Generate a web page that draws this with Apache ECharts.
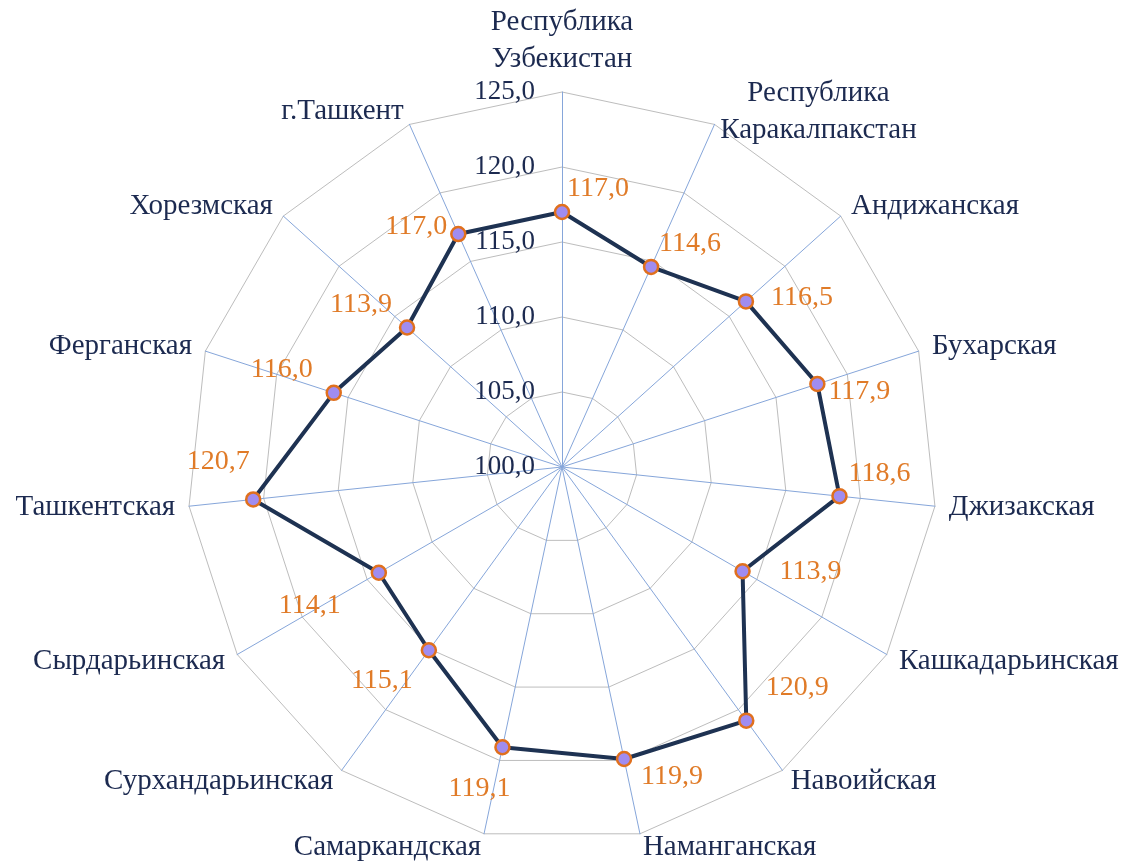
<!DOCTYPE html>
<html>
<head>
<meta charset="utf-8">
<script src="https://cdn.jsdelivr.net/npm/echarts@6/dist/echarts.min.js"></script>
<style>
  html, body { margin: 0; padding: 0; background: #ffffff; }
  #chart { width: 1128px; height: 864px; }
</style>
</head>
<body>
<div id="chart"></div>
<script>
// Regions, clockwise from the top
const categories = [
  'Республика\nУзбекистан',
  'Республика\nКаракалпакстан',
  'Андижанская',
  'Бухарская',
  'Джизакская',
  'Кашкадарьинская',
  'Навоийская',
  'Наманганская',
  'Самаркандская',
  'Сурхандарьинская',
  'Сырдарьинская',
  'Ташкентская',
  'Ферганская',
  'Хорезмская',
  'г.Ташкент'
];
const values = [117.0, 114.6, 116.5, 117.9, 118.6, 113.9, 120.9, 119.9, 119.1, 115.1, 114.1, 120.7, 116.0, 113.9, 117.0];
const scaleMin = 100;
const scaleMax = 125;
const scaleStep = 5;

// Label shift (px) from each marker centre
const labelShift = [
  [36, -23], [39, -23], [56, -4], [42, 8], [40, -23],
  [68, 0], [51, -33], [48, 18], [-23, 41], [-47, 30],
  [-69, 33], [-35, -38], [-52, -23], [-46, -23], [-42, -7]
];

const CX = 562, CY = 467, R = 375;
const serif = 'Liberation Serif, Times New Roman, serif';
const navy = '#1c2a50';
const orange = '#e07b28';
const fmt = v => Number(v).toFixed(1).replace('.', ',');

// radar runs counter-clockwise, so feed it the categories in reverse (keeping the first on top)
const radarOrder = [0].concat(categories.map((_, i) => i).slice(1).reverse());
const indicators = radarOrder.map((idx, k) => {
  const ind = { name: categories[idx], min: scaleMin, max: scaleMax };
  if (k === 0) ind.axisLabel = { show: true };
  return ind;
});

// polyline through the points, closed back to the first one
const linePoints = values.map((v, i) => [v, i]).concat([[values[0], values.length]]);
const markerPoints = values.map((v, i) => ({
  value: [v, i],
  label: { offset: labelShift[i] }
}));

const chart = echarts.init(document.getElementById('chart'), null, { renderer: 'canvas' });
chart.setOption({
  backgroundColor: '#ffffff',
  animation: false,
  radar: {
    center: [CX, CY],
    radius: R,
    startAngle: 90,
    shape: 'polygon',
    splitNumber: (scaleMax - scaleMin) / scaleStep,
    nameGap: 14,
    indicator: indicators,
    axisName: {
      color: navy,
      fontFamily: serif,
      fontSize: 29,
      lineHeight: 37,
      formatter: name => name.split('\n').map(s => '{c|' + s + '}').join('\n'),
      rich: {
        c: { align: 'center', color: navy, fontFamily: serif, fontSize: 29, lineHeight: 37 }
      }
    },
    axisLine: { show: true, lineStyle: { color: '#86a6da', width: 1 } },
    axisTick: { show: false },
    axisLabel: {
      show: false,
      color: navy,
      fontFamily: serif,
      fontSize: 27,
      margin: 27,
      formatter: v => fmt(v)
    },
    splitLine: { lineStyle: { color: '#bdbdbd', width: 1 } },
    splitArea: { show: false }
  },
  polar: { center: [CX, CY], radius: R },
  angleAxis: {
    type: 'value', min: 0, max: values.length,
    startAngle: 90, clockwise: true, show: false
  },
  radiusAxis: {
    type: 'value', min: scaleMin, max: scaleMax, interval: scaleStep, show: false
  },
  series: [
    {
      type: 'line',
      coordinateSystem: 'polar',
      data: linePoints,
      symbol: 'none',
      lineStyle: { color: '#1e3252', width: 4 },
      z: 2
    },
    {
      type: 'scatter',
      coordinateSystem: 'polar',
      data: markerPoints,
      symbol: 'circle',
      symbolSize: 14,
      itemStyle: { color: '#a08cf0', borderColor: '#e0701e', borderWidth: 2.5, opacity: 1 },
      label: {
        show: true,
        position: 'inside',
        color: orange,
        fontFamily: serif,
        fontSize: 28,
        formatter: p => fmt(p.value[0])
      },
      z: 3
    }
  ]
});
</script>
</body>
</html>
